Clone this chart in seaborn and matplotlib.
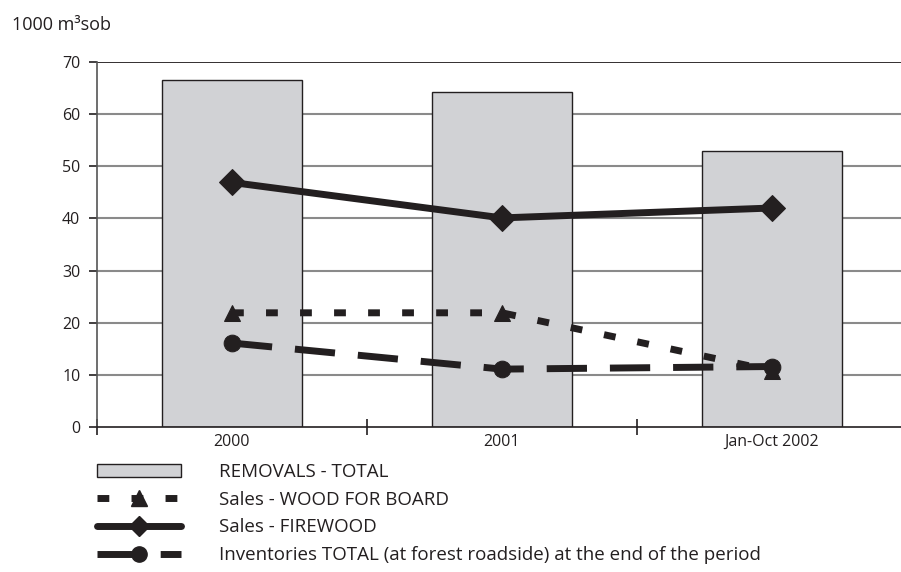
import matplotlib
matplotlib.use("Agg")
import matplotlib.pyplot as plt
import seaborn as sns
import numpy as np
import pandas as pd
from matplotlib.lines import Line2D
from matplotlib.patches import Patch
from matplotlib.ticker import FixedLocator

categories = ["2000", "2001", "Jan-Oct 2002"]
removals_total = [66.5, 64.3, 52.9]
sales_board = [21.9, 21.9, 10.8]
sales_firewood = [46.9, 40.1, 42.0]
inventories_total = [16.1, 11.1, 11.6]
series_labels = [
    "REMOVALS - TOTAL",
    "Sales - WOOD FOR BOARD",
    "Sales - FIREWOOD",
    "Inventories TOTAL (at forest roadside) at the end of the period",
]
y_ticks = [0, 10, 20, 30, 40, 50, 60, 70]
unit_label = "1000 m\u00b3sob"

sns.set_style("white")
plt.rcParams["font.family"] = ["Open Sans", "DejaVu Sans"]

DARK = "#231f20"
BAR = "#d1d2d5"

fig = plt.figure(figsize=(9.01, 5.72), dpi=100)
ax = fig.add_axes([97 / 901, 1 - 427 / 572, 810 / 901, 365 / 572])

df = pd.DataFrame({"cat": categories, "val": removals_total})
sns.barplot(data=df, x="cat", y="val", order=categories, color=BAR,
            saturation=1, width=0.52, edgecolor=DARK, linewidth=1.0, ax=ax,
            zorder=2)

xpos = np.arange(len(categories))
lw = 5.0
sns.lineplot(x=xpos, y=sales_board, ax=ax, color=DARK, lw=lw,
             linestyle=(0, (1.7, 3.2)), marker="^", markersize=12,
             markeredgecolor=DARK, zorder=4)
sns.lineplot(x=xpos, y=sales_firewood, ax=ax, color=DARK, lw=lw,
             marker="D", markersize=13, markeredgecolor=DARK, zorder=4)
sns.lineplot(x=xpos, y=inventories_total, ax=ax, color=DARK, lw=lw,
             linestyle=(0, (5.8, 3.3)), marker="o", markersize=12,
             markeredgecolor=DARK, zorder=4)

ax.set_xlim(-0.5, 2.5)
ax.set_ylim(0, 70)
ax.set_xlabel("")
ax.set_ylabel("")

for y in y_ticks[1:-1]:
    ax.axhline(y, color="#8a8a8a", lw=1.5, zorder=1)
ax.axhline(70, color=DARK, lw=1.3, zorder=1)

for s in ["top", "right"]:
    ax.spines[s].set_visible(False)
ax.spines["left"].set_color("#555555")
ax.spines["left"].set_linewidth(1.2)
ax.spines["bottom"].set_color(DARK)
ax.spines["bottom"].set_linewidth(1.2)

ax.yaxis.set_major_locator(FixedLocator(y_ticks))
ax.set_yticklabels([str(v) for v in y_ticks])
ax.tick_params(axis="y", which="major", left=True, direction="out", length=6,
               width=1.2, color=DARK, labelsize=11.5, pad=6, labelcolor=DARK)

ax.xaxis.set_major_locator(FixedLocator(list(xpos)))
ax.set_xticklabels(categories)
ax.xaxis.set_minor_locator(FixedLocator([-0.5, 0.5, 1.5, 2.5]))
ax.tick_params(axis="x", which="major", bottom=True, length=0, labelsize=11.5,
               pad=5, labelcolor=DARK)
ax.tick_params(axis="x", which="minor", bottom=True, direction="inout",
               length=12, width=1.2, color=DARK)

fig.text(12 / 901, 1 - 25 / 572, unit_label, fontsize=13, color=DARK,
         va="center", ha="left")

handles = [
    Patch(facecolor=BAR, edgecolor=DARK, linewidth=1.0),
    Line2D([], [], color=DARK, lw=lw, linestyle=(0, (1.7, 3.2)),
           marker="^", markersize=12),
    Line2D([], [], color=DARK, lw=lw, marker="D", markersize=10),
    Line2D([], [], color=DARK, lw=lw, linestyle=(0, (5.8, 3.3)),
           marker="o", markersize=11),
]
fig.legend(handles, series_labels, loc="upper left",
           bbox_to_anchor=(97 / 901, 1 - 463 / 572), frameon=False,
           fontsize=13.5, handlelength=4.5, handleheight=0.75,
           handletextpad=2.0, labelspacing=0.52, borderpad=0,
           borderaxespad=0, numpoints=1, labelcolor=DARK)

fig.savefig("out.png", dpi=100)
